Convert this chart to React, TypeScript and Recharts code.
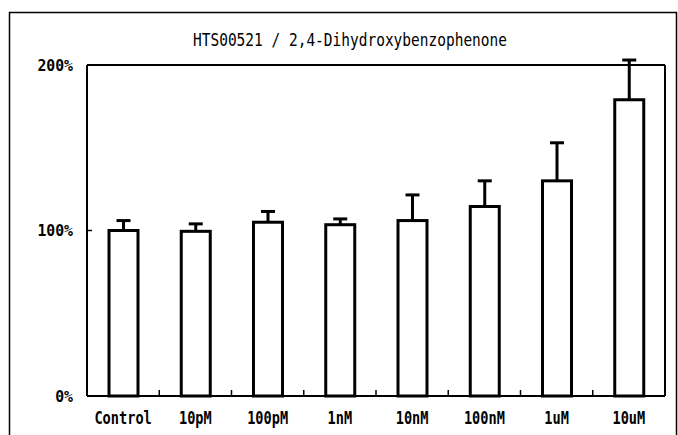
import React from 'react';
import { BarChart, Bar, XAxis, YAxis, ReferenceLine } from 'recharts';

const TITLE = 'HTS00521 / 2,4-Dihydroxybenzophenone';
const categories = ['Control', '10pM', '100pM', '1nM', '10nM', '100nM', '1uM', '10uM'];
const meanValues = [100, 99.5, 105, 103.5, 106, 114.5, 130, 179];
const errorValues = [6, 4.5, 6.5, 3.5, 15.5, 15.5, 23, 24];
const yTicks = [0, 100, 200];
const yTickLabels = ['0%', '100%', '200%'];

const W = 678;
const H = 435;
const MARGIN = { top: 65, right: 13, bottom: 9, left: 0 };
const Y_AXIS_W = 87;
const X_AXIS_H = 30;
const HALF_BAND = (W - MARGIN.left - MARGIN.right - Y_AXIS_W) / categories.length / 2;
const FONT = '"DejaVu Sans Mono", "Liberation Mono", monospace';

const data = categories.map((c, i) => ({ name: c, value: meanValues[i], err: errorValues[i] }));

function BarWithError(props: any) {
  const { x, y, width, height, payload } = props;
  if (height == null || width == null || !payload) return null;
  const k = payload.value ? height / payload.value : 0;
  const top = y - payload.err * k;
  const cx = x + width / 2;
  return (
    <g>
      <rect x={x} y={y} width={width} height={height} fill="#fff" stroke="#000" strokeWidth={3} />
      <line x1={cx} x2={cx} y1={y} y2={top} stroke="#000" strokeWidth={3} />
      <line x1={cx - 7} x2={cx + 7} y1={top} y2={top} stroke="#000" strokeWidth={3} />
    </g>
  );
}

function XTick(props: any) {
  const { x, y, payload, index } = props;
  const label = String(payload.value);
  return (
    <g>
      {index > 0 && (
        <line x1={x - HALF_BAND} x2={x - HALF_BAND} y1={y - 22} y2={y - 28} stroke="#000" strokeWidth={1.5} />
      )}
      <text
        x={x}
        y={y}
        textAnchor="middle"
        dominantBaseline="central"
        fontFamily={FONT}
        fontSize={17}
        fontWeight="bold"
        textLength={label.length * 8.2}
        lengthAdjust="spacingAndGlyphs"
        fill="#000"
      >
        {label}
      </text>
    </g>
  );
}

function YTick(props: any) {
  const { x, y, payload } = props;
  const idx = yTicks.indexOf(payload.value);
  const label = idx >= 0 ? yTickLabels[idx] : String(payload.value);
  return (
    <g>
      <line x1={x + 14} x2={x + 19} y1={y} y2={y} stroke="#000" strokeWidth={1.5} />
      <text
        x={x}
        y={y}
        textAnchor="end"
        dominantBaseline="central"
        fontFamily={FONT}
        fontSize={16}
        fontWeight="bold"
        textLength={label.length * 8.9}
        lengthAdjust="spacingAndGlyphs"
        fill="#000"
      >
        {label}
      </text>
    </g>
  );
}

export default function App() {
  return (
    <div style={{ position: 'relative', width: W, height: H, overflow: 'hidden', background: '#fff' }}>
      <style>{`html,body{margin:0;padding:0;overflow:hidden;background:#fff}`}</style>
      <BarChart width={W} height={H} data={data} margin={MARGIN}>
        <XAxis
          dataKey="name"
          interval={0}
          height={X_AXIS_H}
          axisLine={{ stroke: '#000', strokeWidth: 2 }}
          tickLine={false}
          tickSize={0}
          tickMargin={22}
          tick={<XTick />}
        />
        <YAxis
          domain={[0, 200]}
          ticks={yTicks}
          interval={0}
          width={Y_AXIS_W}
          axisLine={{ stroke: '#000', strokeWidth: 2 }}
          tickLine={false}
          tickSize={0}
          tickMargin={14}
          tick={<YTick />}
        />
        <ReferenceLine y={200} stroke="#000" strokeWidth={2} />
        <ReferenceLine x="10uM" position="end" stroke="#000" strokeWidth={2} />
        <Bar dataKey="value" barSize={29} isAnimationActive={false} shape={BarWithError} />
      </BarChart>
      <svg
        width={W}
        height={H}
        style={{ position: 'absolute', left: 0, top: 0, pointerEvents: 'none' }}
      >
        <path d="M9.5 440 V12.5 H676.5 V440" fill="none" stroke="#000" strokeWidth={1.5} />
        <text
          x={350}
          y={40}
          textAnchor="middle"
          dominantBaseline="central"
          fontFamily={FONT}
          fontSize={17}
          textLength={314}
          lengthAdjust="spacingAndGlyphs"
          fill="#000"
        >
          {TITLE}
        </text>
      </svg>
    </div>
  );
}
